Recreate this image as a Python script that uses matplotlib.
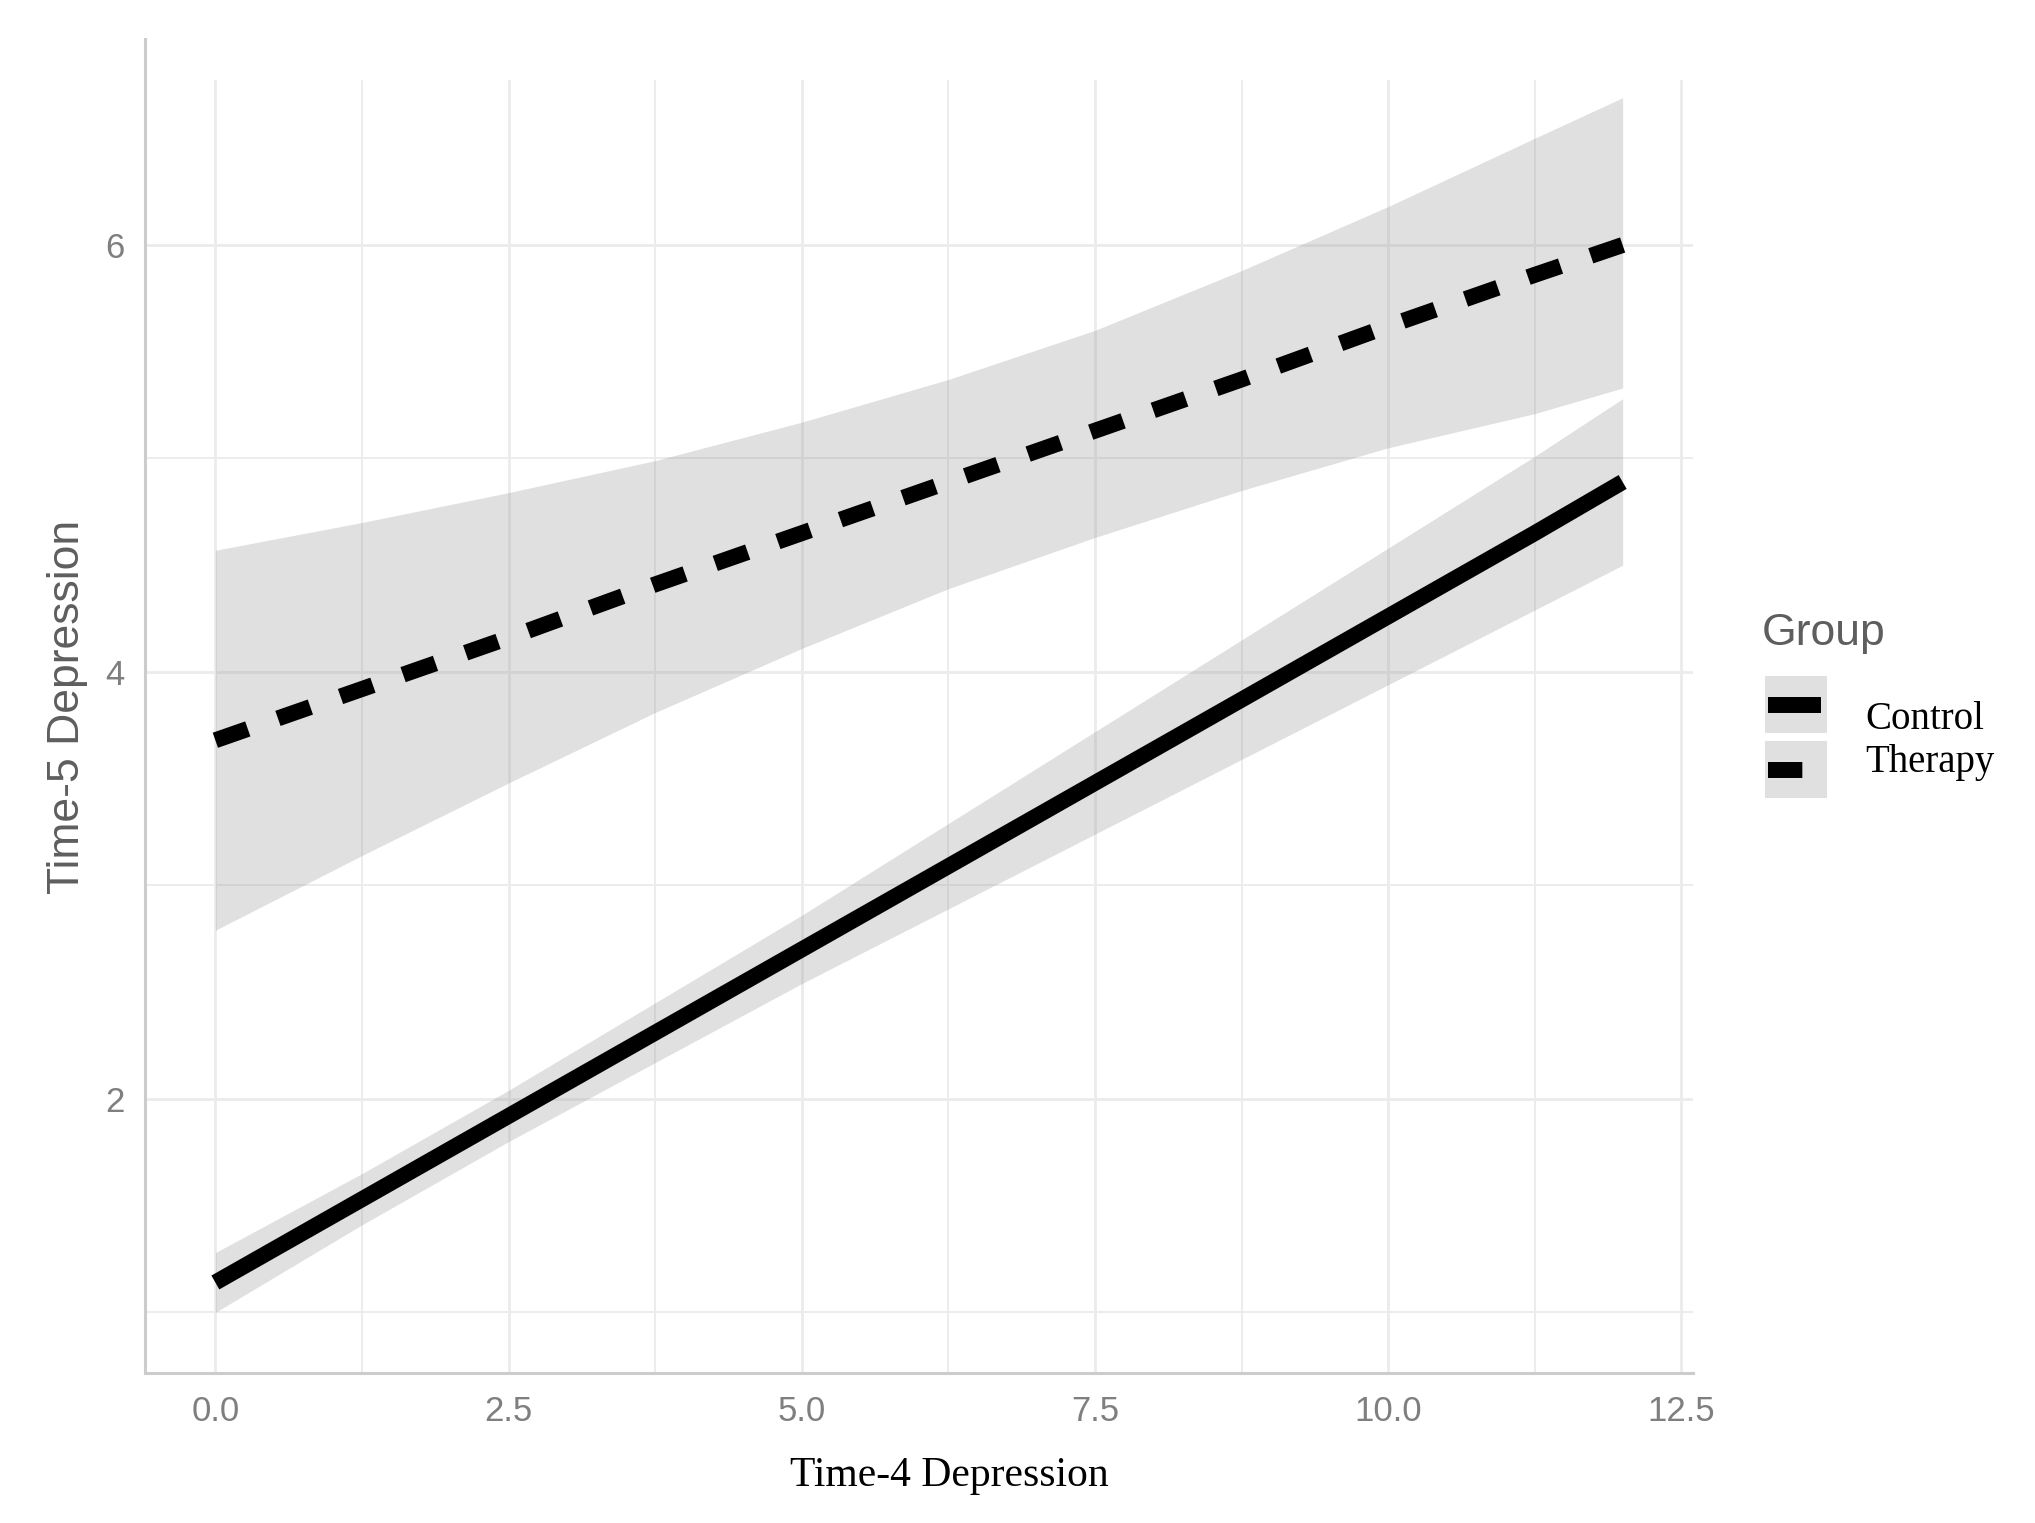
import numpy as np
import matplotlib
matplotlib.use("Agg")
import matplotlib.pyplot as plt
from matplotlib.patches import Rectangle
from matplotlib.lines import Line2D

# values (fitted lines and ribbons)
x_vals = [0, 1.25, 2.5, 3.75, 5, 6.25, 7.5, 8.75, 10, 11.25, 12]
control_fit = [1.14, 1.53, 1.92, 2.31, 2.70, 3.09, 3.48, 3.87, 4.26, 4.65, 4.89]
control_hi = [1.28, 1.65, 2.04, 2.45, 2.86, 3.29, 3.72, 4.15, 4.58, 5.01, 5.28]
control_lo = [1.00, 1.41, 1.80, 2.17, 2.54, 2.89, 3.24, 3.59, 3.94, 4.29, 4.50]
therapy_fit = [3.68, 3.92, 4.16, 4.41, 4.65, 4.89, 5.13, 5.37, 5.62, 5.86, 6.00]
therapy_hi = [4.57, 4.70, 4.84, 4.99, 5.17, 5.37, 5.60, 5.88, 6.18, 6.50, 6.69]
therapy_lo = [2.79, 3.14, 3.48, 3.81, 4.11, 4.39, 4.63, 4.85, 5.05, 5.21, 5.33]

x_ticks = [0, 2.5, 5, 7.5, 10, 12.5]
x_minor = [1.25, 3.75, 6.25, 8.75, 11.25]
y_ticks = [2, 4, 6]
y_minor = [1, 3, 5]

groups = ["Control", "Therapy"]

W, H = 2035, 1523
fig = plt.figure(figsize=(W / 100, H / 100), dpi=100)
ax = fig.add_axes([145 / W, 1 - 1373 / H, (1693 - 145) / W, (1373 - 39) / H])
ax.set_xlim(-0.6, 12.6)
ax.set_ylim(0.716, 6.965)

grid_col = "#ebebeb"
grid_top = 6.77
for xv in x_ticks:
    ax.plot([xv, xv], [0.716, grid_top], color=grid_col, lw=2.0, zorder=0)
for xv in x_minor:
    ax.plot([xv, xv], [0.716, grid_top], color=grid_col, lw=1.3, zorder=0)
for yv in y_ticks:
    ax.axhline(yv, color=grid_col, lw=2.0, zorder=0)
for yv in y_minor:
    ax.axhline(yv, color=grid_col, lw=1.3, zorder=0)

# ribbons
ax.fill_between(x_vals, control_lo, control_hi, color="#999999", alpha=0.3, lw=0, zorder=1)
ax.fill_between(x_vals, therapy_lo, therapy_hi, color="#999999", alpha=0.3, lw=0, zorder=1)

# fitted lines
line_w = 11.5
dash = (0, (2.15, 2.0))
ax.plot(x_vals, control_fit, color="black", lw=line_w, solid_capstyle="butt", zorder=3)
ax.plot(x_vals, therapy_fit, color="black", lw=line_w, linestyle=dash,
        dash_capstyle="butt", zorder=3)

for s in ["top", "right"]:
    ax.spines[s].set_visible(False)
for s in ["left", "bottom"]:
    ax.spines[s].set_color("#cccccc")
    ax.spines[s].set_linewidth(2.2)

ax.set_xticks(x_ticks)
ax.set_xticklabels([f"{v:.1f}" for v in x_ticks])
ax.set_yticks(y_ticks)
ax.set_yticklabels([str(v) for v in y_ticks])
ax.tick_params(length=0, labelsize=25, labelcolor="#7f7f7f")
ax.tick_params(axis="x", pad=16)
ax.tick_params(axis="y", pad=15)
for lab in ax.get_xticklabels() + ax.get_yticklabels():
    lab.set_fontfamily("Liberation Sans")

fig.text(67 / W, 1 - 707 / H, "Time-5 Depression", rotation=90, ha="center", va="center",
         fontsize=32, color="#5e5e5e", family="Liberation Sans")
fig.text(949 / W, 1 - 1476 / H, "Time-4 Depression", ha="center", va="center",
         fontsize=30, color="black", family="Liberation Serif")

# legend, drawn in figure pixel space
lax = fig.add_axes([0, 0, 1, 1])
lax.set_xlim(0, W)
lax.set_ylim(H, 0)
lax.axis("off")
lax.patch.set_visible(False)

lax.text(1762, 633, "Group", ha="left", va="center", fontsize=32, color="#5e5e5e",
         family="Liberation Sans")
key_tops = [676, 741]
label_base = [729, 772]
styles = ["-", dash]
for i, g in enumerate(groups):
    lax.add_patch(Rectangle((1765, key_tops[i]), 62, 57, facecolor="#e0e0e0", edgecolor="none"))
    yk = key_tops[i] + 29
    lax.add_line(Line2D([1768, 1821], [yk, yk], color="black", lw=line_w, linestyle=styles[i],
                        solid_capstyle="butt", dash_capstyle="butt"))
    lax.text(1865, label_base[i], g, ha="left", va="baseline", fontsize=28, color="black",
             family="Liberation Serif")

fig.savefig("out.png", dpi=100, facecolor="white")
